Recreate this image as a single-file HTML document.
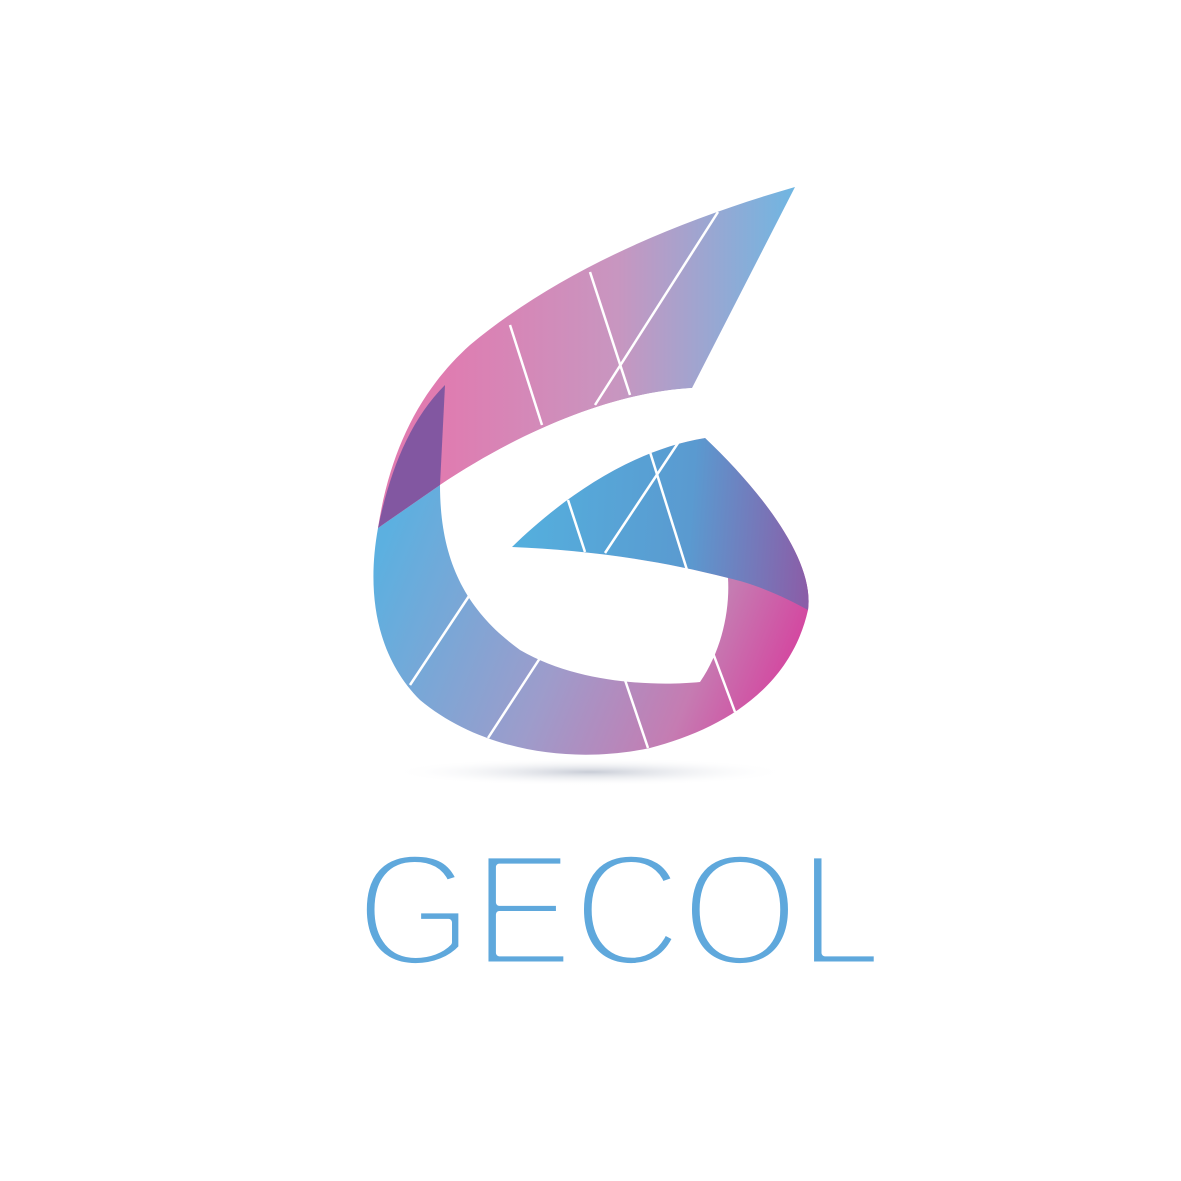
<!DOCTYPE html>
<html><head><meta charset="utf-8"><style>
html,body{margin:0;padding:0;background:#fff;}
svg{display:block;}
</style></head><body>
<svg width="1181" height="1181" viewBox="0 0 1181 1181">
<defs>
<linearGradient id="gUp" x1="440" y1="0" x2="795" y2="0" gradientUnits="userSpaceOnUse">
<stop offset="0" stop-color="#e07bb0"/><stop offset="0.5" stop-color="#c896c0"/><stop offset="1" stop-color="#6fb6e2"/>
</linearGradient>
<linearGradient id="gLow" x1="380" y1="550" x2="800" y2="720" gradientUnits="userSpaceOnUse">
<stop offset="0" stop-color="#5cb0e0"/><stop offset="0.45" stop-color="#9d9ccb"/><stop offset="0.75" stop-color="#c57cb2"/><stop offset="1" stop-color="#d9359a"/>
</linearGradient>
<linearGradient id="gDrop" x1="512" y1="500" x2="810" y2="520" gradientUnits="userSpaceOnUse">
<stop offset="0" stop-color="#54b0de"/><stop offset="0.6" stop-color="#5a9ad0"/><stop offset="1" stop-color="#8a5ea8"/>
</linearGradient>
<radialGradient id="gSh" cx="0.5" cy="0.5" r="0.5">
<stop offset="0" stop-color="#c8ccd6"/><stop offset="1" stop-color="#ffffff" stop-opacity="0"/>
</radialGradient>
</defs>
<ellipse cx="590" cy="772" rx="200" ry="14" fill="url(#gSh)"/>
<path fill="url(#gLow)" d="M378,528 C365,600 380,660 420,700 C480,750 570,765 650,748 C720,730 790,690 808,610 C815,560 760,490 705,438 C640,440 560,470 440,485 Z"/>
<path fill="url(#gDrop)" d="M512,547 C560,500 630,450 705,438 C760,490 815,560 808,610 C790,600 760,585 728,578 C650,558 580,550 512,547 Z"/>
<path fill="url(#gUp)" d="M795,187 L692,388 C620,392 530,425 440,485 L378,528 C390,450 420,390 470,345 C560,270 680,220 795,187 Z"/>
<path fill="#6a4f9e" opacity="0.8" d="M378,528 C390,470 410,420 445,385 L440,485 Z"/>
<path fill="#fff" d="M692,388 C620,392 530,425 440,485 C440,560 465,610 520,650 C580,685 660,686 700,682 C722,650 730,610 728,578 C650,558 580,550 512,547 C560,500 630,450 705,438 L800,388 Z"/>
<g stroke="#fff" stroke-width="2.5">
<line x1="510" y1="325" x2="542" y2="425"/><line x1="590" y1="272" x2="630" y2="395"/>
<line x1="718" y1="212" x2="595" y2="405"/><line x1="568" y1="500" x2="585" y2="552"/>
<line x1="650" y1="452" x2="687" y2="570"/><line x1="680" y1="440" x2="605" y2="553"/>
<line x1="473" y1="590" x2="410" y2="685"/><line x1="542" y1="655" x2="488" y2="738"/>
<line x1="625" y1="680" x2="648" y2="748"/><line x1="710" y1="645" x2="735" y2="712"/>
</g>
<text x="356" y="965" textLength="526" lengthAdjust="spacingAndGlyphs" font-family="Liberation Sans, sans-serif" font-size="160" fill="#5fa8dc" stroke="#fff" stroke-width="7" paint-order="fill" stroke-linejoin="round">GECOL</text>
</svg>
</body></html>
